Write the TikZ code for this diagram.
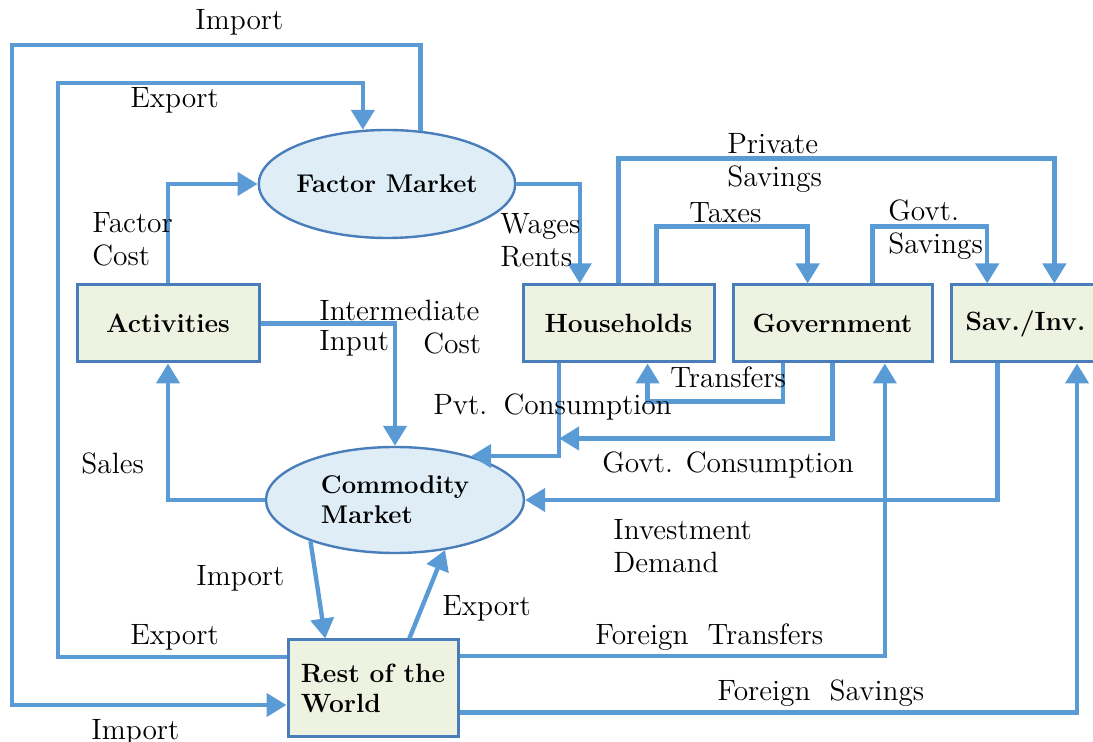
\documentclass[tikz,border=0pt]{standalone}
\usetikzlibrary{arrows.meta,calc,shapes.geometric}
\definecolor{flowblue}{HTML}{5B9BD5}
\definecolor{edgeblue}{HTML}{4A7EBB}
\definecolor{boxfill}{HTML}{EEF2E0}
\definecolor{mktfill}{HTML}{DEEDF6}

\begin{document}
\begin{tikzpicture}[x=0.5pt,y=-0.5pt,
  lbl/.style={font=\fontsize{14.7}{16.5}\selectfont, anchor=west, inner sep=0pt, align=left},
  acct/.style={rectangle, draw=edgeblue, line width=1.5pt, fill=boxfill, inner sep=0pt,
    minimum height=38.5pt, font=\fontsize{13.2}{15}\selectfont\bfseries},
  mkt/.style={ellipse, draw=edgeblue, line width=1.2pt, fill=mktfill, inner sep=0pt,
    font=\fontsize{12.8}{15}\selectfont\bfseries},
  flow/.style={draw=flowblue, line width=2.2pt, -{Triangle[length=10pt,width=11.5pt]}}
]
\useasboundingbox (0,0) rectangle (1093,742);
\clip (0,0) rectangle (1093,742);

% accounts and markets
\node[mkt, minimum width=128pt, minimum height=54pt] (fm) at (387,184) {Factor Market};
\node[mkt, minimum width=129pt, minimum height=53pt, align=left] (cm) at (395,500) {Commodity\\Market};
\node[acct, minimum width=91pt] (act) at (168,323.5) {Activities};
\node[acct, minimum width=95.5pt] (hh) at (618.5,323.5) {Households};
\node[acct, minimum width=99.5pt] (gov) at (832.5,323.5) {Government};
\node[acct, minimum width=74.5pt] (si) at (1025.5,323.5) {Sav./Inv.};
\node[acct, minimum width=85pt, minimum height=48.5pt, align=left] (row) at (373,688.5) {Rest of the\\World};

% attachment points on the boxes
\coordinate (wr)   at ($(hh.north west)!0.30!(hh.north east)$);
\coordinate (txout) at ($(hh.north west)!0.696!(hh.north east)$);
\coordinate (txin) at ($(gov.north west)!0.377!(gov.north east)$);
\coordinate (gsout) at ($(gov.north west)!0.698!(gov.north east)$);
\coordinate (gsin) at ($(si.north west)!0.248!(si.north east)$);
\coordinate (psin) at ($(si.north west)!0.69!(si.north east)$);
\coordinate (trout) at ($(gov.south west)!0.256!(gov.south east)$);
\coordinate (trin) at ($(hh.south west)!0.65!(hh.south east)$);
\coordinate (pcout) at ($(hh.south west)!0.194!(hh.south east)$);
\coordinate (idout) at ($(si.south west)!0.315!(si.south east)$);
\coordinate (ftin) at ($(gov.south west)!0.759!(gov.south east)$);
\coordinate (fsin) at ($(si.south west)!0.839!(si.south east)$);
\coordinate (imin) at ($(row.north west)!0.224!(row.north east)$);
\coordinate (exout) at ($(row.north west)!0.71!(row.north east)$);
\coordinate (ftout) at ($(row.north east)!0.175!(row.south east)$);
\coordinate (fsout) at ($(row.north east)!0.742!(row.south east)$);

% corners of the two outer loops
\coordinate (imcorner) at (12,45);
\coordinate (imlow) at (12,705);
\coordinate (excorner) at (58,83);
\coordinate (exlow) at (58,657);

% flows
\draw[flow] (fm.58) |- (imcorner) -- (imlow) -- (imlow -| row.west);
\draw[flow] (exlow -| row.west) -- (exlow) -- (excorner) -| (fm.114);
\draw[flow] (act.north) |- (fm.west);
\draw[flow] (fm.east) -| (wr);
\draw[flow] (hh.north) -- ++(0,-125) -| (psin);
\draw[flow] (txout) -- ++(0,-57) -| (txin);
\draw[flow] (gsout) -- ++(0,-57) -| (gsin);
\draw[flow] (trout) -- ++(0,38) -| (trin);
\draw[flow] (pcout) |- (cm.30);
\draw[flow] (gov.south) |- ($(pcout)+(0,75)$);
\draw[flow] (idout) |- (cm.east);
\draw[flow] (act.east) -| (cm.north);
\draw[flow] (cm.west) -| (act.south);
\draw[flow] (cm.206) -- (imin);
\draw[flow] (exout) -- (cm.-45);
\draw[flow] (ftout) -| (ftin);
\draw[flow] (fsout) -| (fsin);

% flow labels
\node[lbl] (l1) at (195,22) {Import};
\node[lbl] (l2) at (130,100) {Export};
\node[lbl] (l3) at (92,239) {Factor\\Cost};
\node[lbl] (l4) at (500,240) {Wages\\Rents};
\node[lbl] (l5) at (727,163) {Private\\Savings};
\node[lbl] (l6) at (689,213) {Taxes};
\node[lbl] (l7) at (888,230) {Govt.\\Savings};
\node[lbl] (l8) at (319,310) {Intermediate};
\node[lbl] (l9) at (319,343) {Input};
\node[lbl] (l10) at (423,343) {Cost};
\node[lbl] (l11) at (670,377) {Transfers};
\node[lbl] (l12) at (433,407) {Pvt.\hspace{0.55em}Consumption};
\node[lbl] (l13) at (602,465) {Govt. Consumption};
\node[lbl] (l14) at (81,463) {Sales};
\node[lbl] (l15) at (613,546) {Investment\\Demand};
\node[lbl] (l16) at (196,578) {Import};
\node[lbl] (l17) at (442,608) {Export};
\node[lbl] (l18) at (130,637) {Export};
\node[lbl] (l19) at (595,637) {Foreign\ \ Transfers};
\node[lbl] (l20) at (717,693) {Foreign\ \ Savings};
\node[lbl] (l21) at (91,732) {Import};
\end{tikzpicture}
\end{document}
